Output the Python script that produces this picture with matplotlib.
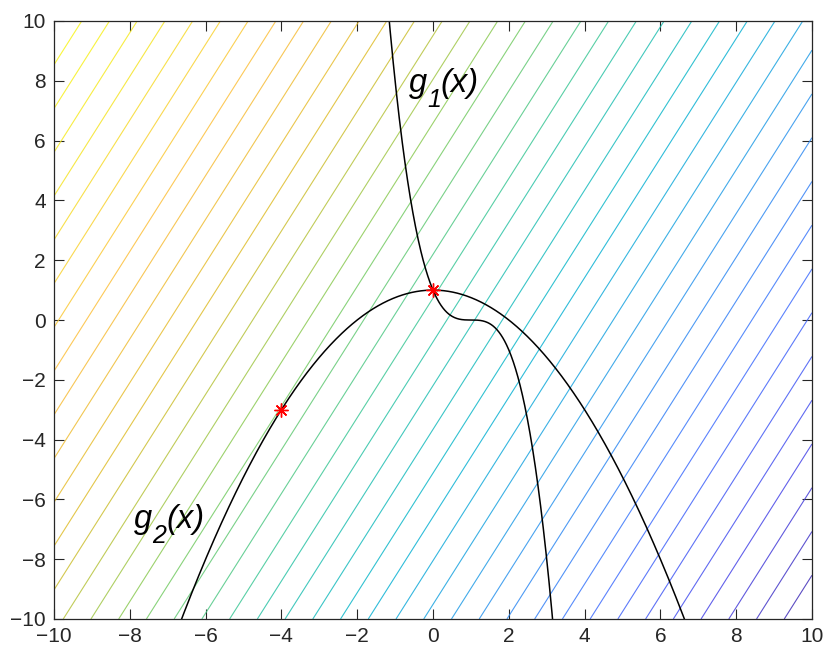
import numpy as np
import matplotlib
matplotlib.use("Agg")
import matplotlib.pyplot as plt
from matplotlib.colors import LinearSegmentedColormap, Normalize
from matplotlib.transforms import offset_copy

# parula-like colormap (MATLAB default)
parula_pts = [
    (0.2422, 0.1504, 0.6603),
    (0.2803, 0.2782, 0.9221),
    (0.2440, 0.4358, 0.9988),
    (0.1540, 0.5902, 0.9218),
    (0.0297, 0.7082, 0.8163),
    (0.1938, 0.7758, 0.6251),
    (0.5044, 0.7993, 0.3480),
    (0.8634, 0.7406, 0.1596),
    (0.9956, 0.7434, 0.2371),
    (0.9610, 0.8890, 0.1537),
    (0.9769, 0.9839, 0.0805),
]
parula = LinearSegmentedColormap.from_list("parula", parula_pts)

# objective f(x1, x2) = x2 - 2*x1, drawn with 40 contour levels
f_coef_x = -2.0
f_coef_y = 1.0
n_levels = 40
x_lim = [-10, 10]
y_lim = [-10, 10]

# constraint curves: g1(x) = (1 - x)^3, g2(x) = 1 - x^2/4
g1_shift = 1.0
g2_a = 1.0
g2_b = 0.25

# marked points
pts_x = [0, -4]
pts_y = [1, -3]

xs = np.linspace(x_lim[0], x_lim[1], 201)
ys = np.linspace(y_lim[0], y_lim[1], 201)
X, Y = np.meshgrid(xs, ys)
Z = f_coef_x * X + f_coef_y * Y
levels = np.linspace(Z.min(), Z.max(), n_levels + 2)[1:-1]

fig = plt.figure(figsize=(8.28, 6.54), dpi=100)
ax = fig.add_axes([54 / 828, 35 / 654, 758 / 828, 598 / 654])

ax.contour(X, Y, Z, levels=levels, cmap=parula,
           norm=Normalize(Z.min(), Z.max()), linewidths=0.8, alpha=0.85)

xc = np.linspace(x_lim[0], x_lim[1], 2001)
ax.plot(xc, (g1_shift - xc) ** 3, color="black", lw=1.1)
ax.plot(xc, g2_a - g2_b * xc ** 2, color="black", lw=1.1)
ax.plot(pts_x, pts_y, linestyle="none", marker=(8, 2, 0), markersize=10,
        color="red", markeredgewidth=1.0)


def sub_label(x, y, base, sub, rest):
    # g_k(x) written piece by piece so the subscript sits low like TeX labels
    font = dict(family="Liberation Sans", style="italic", va="baseline",
                ha="left")
    r = fig.canvas.get_renderer()
    t = ax.text(x, y, base, fontsize=23.5, **font)
    w = t.get_window_extent(r).width
    tr = offset_copy(ax.transData, fig=fig, x=w, y=-15, units="dots")
    s = ax.text(x, y, sub, fontsize=18, transform=tr, **font)
    w += s.get_window_extent(r).width
    tr = offset_copy(ax.transData, fig=fig, x=w, y=0, units="dots")
    ax.text(x, y, rest, fontsize=23.5, transform=tr, **font)


sub_label(-0.64, 7.63, "g", "1", "(x)")
sub_label(-7.88, -6.96, "g", "2", "(x)")

ax.set_xlim(x_lim)
ax.set_ylim(y_lim)
ax.set_xticks(np.arange(-10, 11, 2))
ax.set_yticks(np.arange(-10, 11, 2))
ax.tick_params(direction="in", top=True, right=True, length=7, width=0.8,
               labelsize=15, colors="#262626", pad=6)
for lab in ax.get_xticklabels() + ax.get_yticklabels():
    lab.set_family("Liberation Sans")
for sp in ax.spines.values():
    sp.set_color("#262626")
    sp.set_linewidth(0.9)

fig.savefig("out.png", dpi=100)
